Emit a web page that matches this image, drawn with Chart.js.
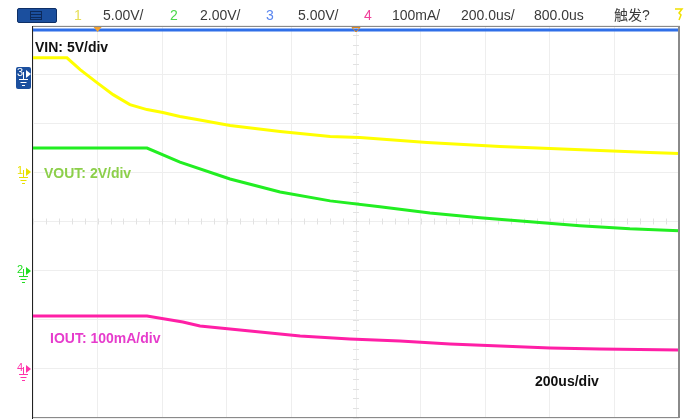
<!DOCTYPE html>
<html>
<head>
<meta charset="utf-8">
<script src="https://cdn.jsdelivr.net/npm/chart.js@4.4.0/dist/chart.umd.min.js"></script>
<style>
  body { margin: 0; background: #fff; }
  #wrap { position: relative; width: 699px; height: 419px; overflow: hidden; font-family: "Liberation Sans", Arial, "Noto Sans CJK SC", sans-serif; }
  #wrap canvas { position: absolute; left: 0; top: 0; }
  .hd { position: absolute; top: 7px; font-size: 14px; line-height: 16px; color: #3a3a3a; white-space: nowrap; }
  .lbl { position: absolute; font-weight: bold; font-size: 14px; line-height: 16px; white-space: nowrap; }
  #menu { position: absolute; left: 17px; top: 8px; width: 40px; height: 15px; background: #1b4f9e; border: 1px solid #0e2f66; box-sizing: border-box; border-radius: 2px; }
  #menu i { position: absolute; left: 12px; top: 2px; width: 12px; height: 9px; border: 1px solid #0c2a5c; box-sizing: border-box; background: repeating-linear-gradient(#1b4f9e 0 2px, #0c2a5c 2px 3px); }
</style>
</head>
<body>
<div id="wrap">
  <canvas id="scope" width="699" height="419"></canvas>
  <div id="menu"><i></i></div>
  <span class="hd" style="left:74px;color:#e6de55">1</span>
  <span class="hd" style="left:103px">5.00V/</span>
  <span class="hd" style="left:170px;color:#4ad84a">2</span>
  <span class="hd" style="left:200px">2.00V/</span>
  <span class="hd" style="left:266px;color:#5a86f0">3</span>
  <span class="hd" style="left:298px">5.00V/</span>
  <span class="hd" style="left:364px;color:#f0409a">4</span>
  <span class="hd" style="left:392px">100mA/</span>
  <span class="hd" style="left:461px">200.0us/</span>
  <span class="hd" style="left:534px">800.0us</span>
  <span class="hd" style="left:614px">触发?</span>
  <span class="lbl" style="left:35px;top:39px;color:#111">VIN: 5V/div</span>
  <span class="lbl" style="left:44px;top:165px;color:#8ccf4a">VOUT: 2V/div</span>
  <span class="lbl" style="left:50px;top:330px;color:#e63ccc">IOUT: 100mA/div</span>
  <span class="lbl" style="left:535px;top:373px;color:#111">200us/div</span>
</div>
<script>
// time base: 200us/div, 10 div
const timeMax = 2000;

// CH1 VIN (V)
const vinTime = [0, 105, 146, 198, 248, 300, 353, 402, 455, 508, 610, 765, 920, 1012, 1220, 1446, 1601, 1755, 1910, 2000];
const vinVolts = [11.66, 11.66, 10.45, 9.13, 7.91, 6.90, 6.39, 6.09, 5.68, 5.38, 4.77, 4.16, 3.65, 3.55, 3.04, 2.64, 2.43, 2.23, 2.03, 1.93];

// CH2 VOUT (V)
const voutTime = [0, 353, 455, 610, 765, 920, 1074, 1229, 1384, 1539, 1693, 1848, 2000];
const voutVolts = [4.99, 4.99, 4.42, 3.73, 3.20, 2.84, 2.60, 2.35, 2.15, 1.99, 1.83, 1.70, 1.62];

// CH3 (V)
const ch3Time = [0, 2000];
const ch3Volts = [4.5, 4.5];

// CH4 IOUT (mA)
const ioutTime = [0, 353, 464, 517, 672, 827, 981, 1136, 1291, 1446, 1601, 1755, 2000];
const ioutMilliamps = [107.5, 107.5, 95.3, 87.2, 77.1, 66.9, 60.9, 56.8, 50.7, 46.7, 42.6, 40.6, 38.5];

// channel scale (per div) and ground offset (div)
const channels = [
  { num: '1', perDiv: 5, offset: 1, color: '#ffff00', mark: '#e8e000' },
  { num: '2', perDiv: 2, offset: -1, color: '#22ee22', mark: '#22dd22' },
  { num: '3', perDiv: 5, offset: 3, color: '#2f6fe8', mark: '#1b4f9e' },
  { num: '4', perDiv: 100, offset: -3, color: '#ff1fa6', mark: '#ff33aa' }
];

function toPoints(times, values, ch) {
  return times.map((t, i) => ({ x: t, y: values[i] / ch.perDiv + ch.offset }));
}

function trace(times, values, ch) {
  return {
    data: toPoints(times, values, ch),
    borderColor: ch.color,
    borderWidth: 3,
    pointRadius: 0,
    tension: 0,
    fill: false
  };
}

const scopeDecor = {
  id: 'scopeDecor',
  beforeDatasetsDraw(chart) {
    const { ctx, chartArea: a, scales: { x, y } } = chart;
    const cx = x.getPixelForValue(timeMax / 2);
    const cy = y.getPixelForValue(0);
    ctx.save();
    ctx.strokeStyle = '#e2e2e2';
    ctx.lineWidth = 1;
    ctx.beginPath();
    for (let d = -4; d <= 4; d += 0.2) {
      const py = Math.round(y.getPixelForValue(d)) + 0.5;
      ctx.moveTo(cx - 3, py); ctx.lineTo(cx + 3, py);
    }
    for (let t = 0; t <= timeMax; t += 40) {
      const px = Math.round(x.getPixelForValue(t)) + 0.5;
      ctx.moveTo(px, cy - 3); ctx.lineTo(px, cy + 3);
    }
    ctx.stroke();
    ctx.restore();
  },
  afterDraw(chart) {
    const { ctx, chartArea: a, scales: { x, y } } = chart;
    ctx.save();
    // frame
    ctx.strokeStyle = '#8a8a8a';
    ctx.lineWidth = 1;
    ctx.beginPath();
    ctx.moveTo(a.left, 26.5); ctx.lineTo(a.right, 26.5);
    ctx.moveTo(a.left, a.bottom - 0.5); ctx.lineTo(a.right, a.bottom - 0.5);
    ctx.stroke();
    ctx.lineWidth = 2;
    ctx.beginPath();
    ctx.moveTo(a.right, 26); ctx.lineTo(a.right, a.bottom);
    ctx.stroke();
    ctx.strokeStyle = '#222';
    ctx.lineWidth = 1;
    ctx.beginPath();
    ctx.moveTo(32.5, 26); ctx.lineTo(32.5, 419);
    ctx.stroke();

    // trigger position markers
    ctx.fillStyle = '#f0a030';
    ctx.strokeStyle = '#e08a20';
    const t1 = x.getPixelForValue(200);
    ctx.beginPath();
    ctx.moveTo(t1 - 4, 27); ctx.lineTo(t1 + 4, 27); ctx.lineTo(t1, 32); ctx.closePath();
    ctx.fill();
    const t2 = x.getPixelForValue(timeMax / 2);
    ctx.beginPath();
    ctx.moveTo(t2 - 4, 27.5); ctx.lineTo(t2 + 4, 27.5); ctx.lineTo(t2, 32); ctx.closePath();
    ctx.stroke();

    // trigger icon top right
    ctx.strokeStyle = '#f0e000';
    ctx.lineWidth = 1.5;
    ctx.beginPath();
    ctx.moveTo(675, 9); ctx.lineTo(682, 9); ctx.lineTo(679, 13); ctx.lineTo(681, 15); ctx.lineTo(679, 20);
    ctx.stroke();

    // channel ground markers
    ctx.font = '11px "Liberation Sans", Arial, sans-serif';
    ctx.textBaseline = 'middle';
    ctx.textAlign = 'center';
    channels.forEach(ch => {
      const gy = Math.round(y.getPixelForValue(ch.offset));
      let fg = ch.mark;
      if (ch.num === '3') {
        ctx.fillStyle = ch.mark;
        ctx.beginPath();
        ctx.roundRect(16, gy - 7, 15, 22, 2);
        ctx.fill();
        fg = '#ffffff';
      }
      ctx.fillStyle = fg;
      ctx.strokeStyle = fg;
      ctx.lineWidth = 1;
      ctx.fillText(ch.num, 20, gy - 1);
      ctx.beginPath();
      ctx.moveTo(26, gy - 4); ctx.lineTo(31, gy); ctx.lineTo(26, gy + 4); ctx.closePath();
      ctx.fill();
      ctx.beginPath();
      ctx.moveTo(23.5, gy - 2); ctx.lineTo(23.5, gy + 5);
      ctx.moveTo(19, gy + 5.5); ctx.lineTo(28, gy + 5.5);
      ctx.moveTo(20.5, gy + 8.5); ctx.lineTo(26.5, gy + 8.5);
      ctx.moveTo(22, gy + 11.5); ctx.lineTo(25, gy + 11.5);
      ctx.stroke();
    });
    ctx.restore();
  }
};

new Chart(document.getElementById('scope'), {
  type: 'line',
  data: {
    datasets: [
      trace(ch3Time, ch3Volts, channels[2]),
      trace(vinTime, vinVolts, channels[0]),
      trace(voutTime, voutVolts, channels[1]),
      trace(ioutTime, ioutMilliamps, channels[3])
    ]
  },
  options: {
    responsive: false,
    animation: false,
    devicePixelRatio: 1,
    layout: { padding: { left: 33, right: 20, top: 25, bottom: 1 } },
    plugins: { legend: { display: false }, tooltip: { enabled: false } },
    scales: {
      x: {
        type: 'linear',
        min: 0,
        max: timeMax,
        ticks: { display: false, stepSize: 200 },
        grid: { color: '#eeeeee', drawTicks: false },
        border: { display: false }
      },
      y: {
        min: -4,
        max: 4,
        ticks: { display: false, stepSize: 1 },
        grid: { color: '#eeeeee', drawTicks: false },
        border: { display: false }
      }
    }
  },
  plugins: [scopeDecor]
});
</script>
</body>
</html>
